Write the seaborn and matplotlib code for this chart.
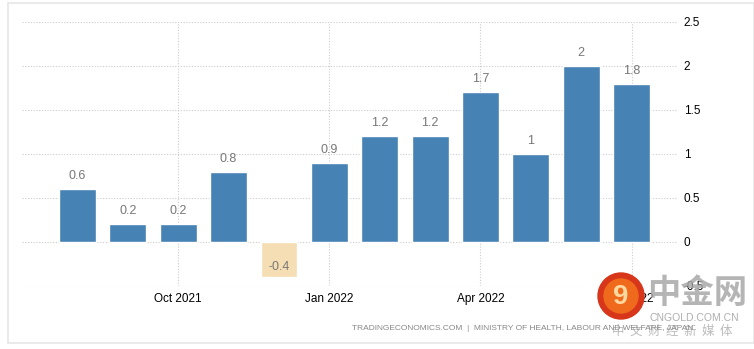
import matplotlib
matplotlib.use("Agg")
import matplotlib.pyplot as plt
import seaborn as sns
import pandas as pd
from matplotlib.patches import Rectangle, Circle

months = ["Aug 2021", "Sep 2021", "Oct 2021", "Nov 2021", "Dec 2021", "Jan 2022",
          "Feb 2022", "Mar 2022", "Apr 2022", "May 2022", "Jun 2022", "Jul 2022"]
values = [0.6, 0.2, 0.2, 0.8, -0.4, 0.9, 1.2, 1.2, 1.7, 1.0, 2.0, 1.8]
value_labels = ["0.6", "0.2", "0.2", "0.8", "-0.4", "0.9", "1.2", "1.2", "1.7", "1", "2", "1.8"]
tick_months = ["Oct 2021", "Jan 2022", "Apr 2022", "Jul 2022"]
y_ticks = [-0.5, 0, 0.5, 1, 1.5, 2, 2.5]
y_tick_labels = ["-0.5", "0", "0.5", "1", "1.5", "2", "2.5"]
source = "TRADINGECONOMICS.COM  |  MINISTRY OF HEALTH, LABOUR AND WELFARE, JAPAN"

sns.set_theme(style="white")
plt.rcParams['font.family'] = ['Liberation Sans', 'Noto Sans CJK SC', 'DejaVu Sans']

df = pd.DataFrame({"month": months, "value": values,
                   "sign": ["pos" if v >= 0 else "neg" for v in values]})

fig = plt.figure(figsize=(7.54, 3.49), dpi=100)
ax = fig.add_axes([22/754, 1-286/349, (678-22)/754, (286-22)/349])

sns.barplot(data=df, x="month", y="value", hue="sign",
            palette={"pos": "#4682b4", "neg": "#f5deb3"},
            dodge=False, width=0.73, legend=False, ax=ax, saturation=1, zorder=3)

ax.set_xlim(-1.1, 11.92)
ax.set_ylim(-0.5, 2.5)

# gridlines
grid_kw = dict(color="#cccccc", linestyle=(0, (1, 1.5)), linewidth=0.8, zorder=1)
for y in y_ticks:
    ax.axhline(y, **grid_kw)
tick_pos = [months.index(m) for m in tick_months]
for x in tick_pos:
    ax.axvline(x, **grid_kw)

ax.yaxis.tick_right()
ax.set_yticks(y_ticks)
ax.set_yticklabels(y_tick_labels)
ax.set_xticks(tick_pos)
ax.set_xticklabels(tick_months)
ax.tick_params(axis="both", length=0, labelsize=8.5, colors="black")
ax.tick_params(axis="y", pad=4)
ax.tick_params(axis="x", pad=5)
ax.set_xlabel("")
ax.set_ylabel("")
for s in ax.spines.values():
    s.set_visible(False)

# value labels
for i, (v, lab) in enumerate(zip(values, value_labels)):
    if v >= 0:
        ax.annotate(lab, (i, v), xytext=(0, 5), textcoords="offset points",
                    ha="center", va="bottom", fontsize=9, color="#777777", zorder=5)
    else:
        ax.annotate(lab, (i, v), xytext=(0, 3), textcoords="offset points",
                    ha="center", va="bottom", fontsize=9, color="#777777", zorder=5)

# source text
fig.text(693/754, 1-328/349, source, ha="right", va="center", fontsize=6.0,
         color="#888888")

# frame border
fig.patches.append(Rectangle((8/754, 1-343/349), (754-8)/754, (343-3)/349,
                             transform=fig.transFigure, fill=False,
                             edgecolor="#e6e6e6", linewidth=1.2))

# watermark
wax = fig.add_axes([0, 0, 1, 1], facecolor="none")
wax.set_xlim(0, 754)
wax.set_ylim(349, 0)
wax.axis("off")
wax.add_patch(Circle((621, 296), 23, color="#d8361a", zorder=2))
wax.add_patch(Circle((621, 296), 17, color="#ef6a1c", zorder=3))
wax.text(621, 297, "9", ha="center", va="center", fontsize=20, color="#ffd9a0",
         fontweight="bold", zorder=4)
wax.text(697, 293, "中金网", ha="center", va="center", fontsize=24,
         color="#a8a8a8", alpha=0.85, fontweight="bold",
         family=["Noto Sans CJK SC", "DejaVu Sans"])
wax.text(694, 318, "CNGOLD.COM.CN", ha="center", va="center", fontsize=7.5,
         color="#a0a0a0", alpha=0.85)
wax.text(672, 331, "中  文  财  经  新  媒  体", ha="center", va="center", fontsize=9,
         color="#a0a0a0", alpha=0.7, family=["Noto Sans CJK SC", "DejaVu Sans"])

fig.savefig("out.png", dpi=100, facecolor="white")
